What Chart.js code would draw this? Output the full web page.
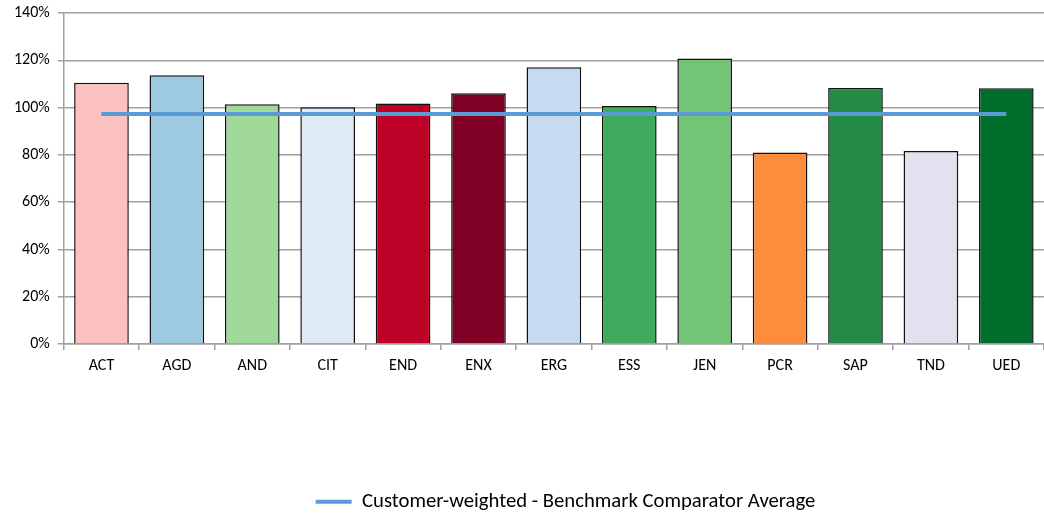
<!DOCTYPE html>
<html><head><meta charset="utf-8">
<script src="https://cdn.jsdelivr.net/npm/chart.js@4/dist/chart.umd.min.js"></script>
<style>html,body{margin:0;padding:0;background:#fff}#wrap{width:1044px;height:514px}</style>
</head><body><div id="wrap"><canvas id="c" width="1044" height="514"></canvas></div>
<script>
const categories = ["ACT","AGD","AND","CIT","END","ENX","ERG","ESS","JEN","PCR","SAP","TND","UED"];
const companyValues = [1.105,1.137,1.014,1.001,1.017,1.061,1.171,1.007,1.208,0.810,1.083,0.816,1.082];
const benchmarkValues = [0.973,0.973,0.973,0.973,0.973,0.973,0.973,0.973,0.973,0.973,0.973,0.973,0.973];
const barColors = ["#FBC0C0","#9ECAE1","#A1D99B","#DEEBF7","#BD0026","#800026","#C6DBEF","#41AB5D","#74C476","#FD8D3C","#238B45","#E5E0EF","#006D2C"];
const seriesLabel = "Customer-weighted - Benchmark Comparator Average";
const yTicks = [0,0.2,0.4,0.6,0.8,1.0,1.2,1.4];

const font = "Carlito, 'Liberation Sans', Arial, sans-serif";
const shiftLegend = {
  id:'shiftLegend',
  afterLayout(chart){ const l = chart.legend; if(l){ l.left += 33; l.right += 33; } }
};
new Chart(document.getElementById('c'), {
  data: {
    labels: categories,
    datasets: [
      { type:'line', label: seriesLabel, data: benchmarkValues, borderColor:'#5B9BD5', backgroundColor:'#5B9BD5', borderWidth:4, pointRadius:0, order:0 },
      { type:'bar', label:'Companies', data: companyValues, backgroundColor: barColors, borderColor:'#111', borderWidth:1.5, barPercentage:0.725, categoryPercentage:1, order:1 }
    ]
  },
  plugins:[shiftLegend],
  options: {
    responsive:false, animation:false,
    layout:{ padding:{ left:6, right:-15, top:0, bottom:-8 } },
    plugins:{
      legend:{ position:'bottom', labels:{ filter:(it)=>it.text===seriesLabel, usePointStyle:true, pointStyle:'line', pointStyleWidth:36, boxWidth:36, boxHeight:4, color:'#000', font:{ family:font, size:20.7 }, padding:4 } },
      tooltip:{ enabled:false }
    },
    scales:{
      x:{ grid:{ display:true, drawOnChartArea:false, tickLength:6, color:'#A0A0A0', lineWidth:1.5, offset:true }, border:{ color:'#A0A0A0', width:1.5 },
          ticks:{ color:'#000', font:{ family:font, size:16 }, padding:6 },
          afterFit:(s)=>{ s.height += 106; } },
      y:{ min:0, max:1.4, afterBuildTicks:(s)=>{ s.ticks = yTicks.map(v=>({value:v})); },
          afterFit:(s)=>{ s.paddingTop = 13; },
          grid:{ color:'#A0A0A0', lineWidth:1.5, tickLength:6 }, border:{ color:'#A0A0A0', width:1.5 },
          ticks:{ color:'#000', font:{ family:font, size:16 }, padding:8, callback:(v)=>Math.round(v*100)+'%' } }
    }
  }
});
</script></body></html>
